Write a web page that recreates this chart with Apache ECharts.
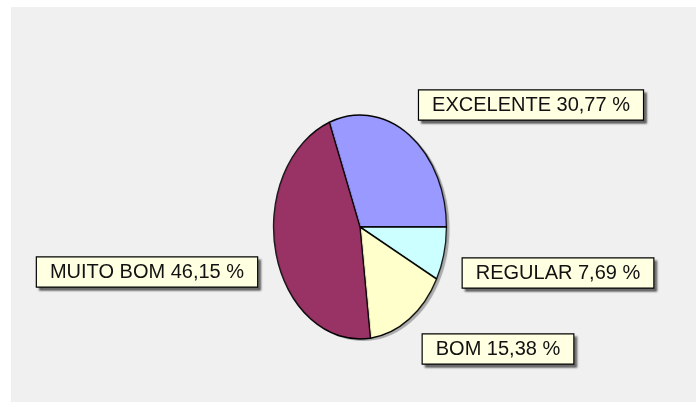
<!DOCTYPE html>
<html>
<head>
  <meta charset="utf-8" />
  <style>
    body, html { margin: 0; width: 100%; height: 100%; background: #fff; }
    #base, #pie { position: absolute; left: 0; top: 0; width: 696px; height: 402px; }
    /* the pie is drawn as a circle and squeezed into an ellipse */
    #pie { transform: scaleX(0.772); transform-origin: 360px 0; }
  </style>
  <script src="https://cdn.jsdelivr.net/npm/echarts@6/dist/echarts.min.js"></script>
</head>
<body>
  <div id="base"></div>
  <div id="pie"></div>
<script>
  const categories = ['EXCELENTE', 'REGULAR', 'BOM', 'MUITO BOM']
  const counts = [4, 1, 2, 6]
  const colors = ['#9999ff', '#ccffff', '#ffffcc', '#993366']

  // label box centres (layout only)
  const labelPos = [[531, 105], [558, 273], [498, 349], [147, 272]]

  const total = counts.reduce((a, b) => a + b, 0)
  const pieData = categories.map((c, i) => ({ name: c, value: counts[i] }))
  // first slice ends at 3 o'clock
  const startAngle = counts[0] / total * 360

  let base = echarts.init(document.getElementById('base'))
  base.setOption({
    animation: false,
    backgroundColor: '#ffffff',
    graphic: [{
      type: 'rect', silent: true, z: -10,
      shape: { x: 11, y: 7, width: 685, height: 395 },
      style: { fill: '#f0f0f0' }
    }],
    series: [{
      type: 'pie',
      silent: true,
      center: [360, 227],
      radius: 112,
      startAngle: startAngle,
      data: pieData,
      itemStyle: { color: 'rgba(0,0,0,0)' },
      labelLine: { show: false },
      label: {
        show: true,
        position: 'inside',
        overflow: 'none',
        formatter: p => p.name + ' ' + (p.value / total * 100).toFixed(2).replace('.', ',') + ' %',
        fontFamily: 'Liberation Sans, Arial, sans-serif',
        fontSize: 20,
        lineHeight: 21,
        color: '#111',
        backgroundColor: '#ffffe1',
        borderColor: '#000',
        borderWidth: 1.2,
        padding: [4, 13, 4, 13],
        shadowColor: 'rgba(0,0,0,0.45)',
        shadowBlur: 2,
        shadowOffsetX: 3,
        shadowOffsetY: 3
      },
      labelLayout: params => ({
        x: labelPos[params.dataIndex][0],
        y: labelPos[params.dataIndex][1],
        align: 'center',
        verticalAlign: 'middle'
      })
    }]
  })

  let pie = echarts.init(document.getElementById('pie'), null, { renderer: 'svg' })
  pie.setOption({
    animation: false,
    backgroundColor: 'transparent',
    series: [
      {
        // soft shadow under the pie
        type: 'pie',
        silent: true,
        z: 1,
        center: [364, 229],
        radius: 112,
        data: [{ name: 'sombra', value: total }],
        itemStyle: { color: 'rgba(0,0,0,0.28)' },
        label: { show: false },
        labelLine: { show: false }
      },
      {
        type: 'pie',
        silent: true,
        z: 2,
        center: [360, 227],
        radius: 112,
        startAngle: startAngle,
        clockwise: true,
        data: pieData,
        color: colors,
        itemStyle: { borderColor: '#000', borderWidth: 1.6 },
        label: { show: false },
        labelLine: { show: false }
      }
    ]
  })
</script>
</body>
</html>
